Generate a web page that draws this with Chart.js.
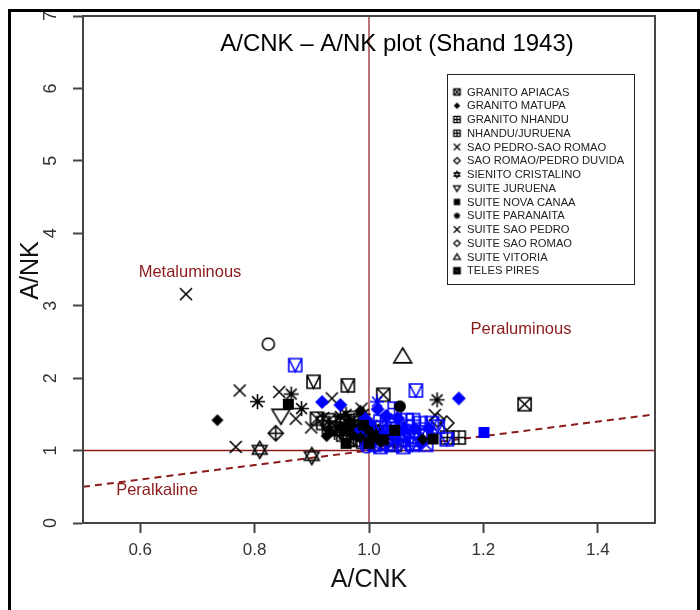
<!DOCTYPE html>
<html><head><meta charset="utf-8">
<script src="https://cdn.jsdelivr.net/npm/chart.js@4/dist/chart.umd.min.js"></script>
<style>html,body{margin:0;padding:0;background:#fff}#wrap{position:relative;width:700px;height:610px}</style>
</head><body><div id="wrap"><canvas id="c" width="700" height="610"></canvas></div>
<script>
const xTicks = [0.6, 0.8, 1.0, 1.2, 1.4];
const yTicks = [0, 1, 2, 3, 4, 5, 6, 7];
const legendLabels = ['GRANITO APIACAS','GRANITO MATUPA','GRANITO NHANDU','NHANDU/JURUENA','SAO PEDRO-SAO ROMAO','SAO ROMAO/PEDRO DUVIDA','SIENITO CRISTALINO','SUITE JURUENA','SUITE NOVA CANAA','SUITE PARANAITA','SUITE SAO PEDRO','SUITE SAO ROMAO','SUITE VITORIA','TELES PIRES'];
const legendSymbols = ['sqx','diamondF','sqplus','sqplus','x','diamond','star6','triDown','sqF','asterisk','x','diamond','triUp','sqxc'];

// series values [A/CNK, A/NK]
const apiacas = [[1.272,1.64],[1.025,1.77],[0.909,1.44],[0.93,1.42],[0.945,1.30],[0.96,1.25],[0.975,1.38],[0.99,1.22],[0.965,1.15],[1.0,1.17],[1.03,1.25]];
const matupa = [[0.735,1.42],[0.926,1.20],[0.97,1.22],[0.985,1.55],[1.094,1.155],[1.02,1.12],[0.955,1.28],[0.95,1.33],[0.985,1.18],[1.0,1.27],[0.93,1.28]];
const nhandu = [[1.137,1.18],[1.157,1.18],[0.973,1.15],[0.955,1.22],[1.0,1.30],[0.93,1.32],[0.985,1.42],[1.03,1.15],[1.045,1.08]];
const nhanduJuruena = [[1.045,1.58],[1.065,1.42],[1.077,1.42],[1.075,1.26],[1.077,1.10],[1.041,1.19],[1.05,1.30],[1.035,1.35],[1.09,1.38],[1.02,1.40],[1.06,1.15]];
const saoPedroSaoRomao = [[0.68,3.16],[0.774,1.83],[0.767,1.05],[0.843,1.81],[0.872,1.44],[0.899,1.32],[0.935,1.72],[0.987,1.58],[0.92,1.45],[1.115,1.49],[0.96,1.42]];
const saoRomaoDuvida = [[0.837,1.24],[0.97,1.35]];
const sienito = [[0.809,1.01],[0.90,0.925]];
const juruenaBox = [[0.903,1.95],[0.963,1.90],[0.94,1.30],[0.98,1.25],[1.01,1.18],[0.92,1.38],[0.955,1.40],[0.98,1.33],[0.99,1.12],[0.97,1.45],[1.01,1.25]];
const juruenaBlue = [[0.871,2.18],[1.082,1.83],[1.12,1.33],[1.136,1.155],[1.076,1.08],[1.05,1.23],[1.09,1.25],[1.03,1.10],[1.04,1.30],[1.06,1.20],[1.10,1.20],[1.02,1.32],[1.11,1.38]];
const juruenaTri = [[0.846,1.48]];
const novaCanaa = [[0.859,1.64],[1.112,1.16],[1.025,1.15],[1.008,1.19],[0.99,1.35],[1.0,1.10],[0.96,1.10],[1.045,1.28]];
const novaCanaaBlue = [[1.201,1.25]];
const paranaita = [[0.805,1.675],[0.864,1.78],[0.882,1.58],[1.119,1.70],[0.95,1.47],[0.99,1.50],[0.965,1.35],[1.01,1.30],[0.94,1.25],[0.975,1.27],[0.96,1.50],[1.005,1.35]];
const paranaitaBlue = [[1.014,1.675],[1.031,1.445],[1.06,1.36]];
const saoRomao = [[1.136,1.38],[1.12,1.42]];
const saoRomaoBlue = [[0.918,1.67],[0.95,1.63],[1.157,1.72],[0.993,1.445],[1.015,1.57],[1.104,1.31],[0.985,1.28],[1.03,1.48],[1.0,1.38],[1.05,1.45],[1.08,1.30],[1.06,1.28],[1.025,1.22],[1.09,1.10]];
const vitoria = [[1.059,2.30]];
const vitoriaCircle = [[0.824,2.47]];
const telesPires = [[1.0,1.12],[1.02,1.05],[1.08,1.15],[1.04,1.08],[1.01,1.08],[1.06,1.05],[1.10,1.08]];
const telesPiresCircle = [[0.996,1.06]];
const telesPiresDot = [[1.054,1.61]];

// reference lines
const lineV = [[1,0],[1,7]];
const lineH = [[0.5,1],[1.5,1]];
const lineShand = [[0.5,0.5],[1.5,1.5]];

const DARKRED = '#8b1a1a';
const BLUE = '#0000ff';
const FONT = "'Liberation Sans', Arial, sans-serif";

function sym(kind, color, r, lw) {
  const S = Math.ceil(2 * r + 2 * lw + 4);
  const c = document.createElement('canvas');
  c.width = c.height = S;
  const g = c.getContext('2d');
  const m = S / 2;
  g.strokeStyle = color; g.fillStyle = color; g.lineWidth = lw; g.lineJoin = 'miter';
  const line = (a, b, cc, d) => { g.moveTo(m + a, m + b); g.lineTo(m + cc, m + d); };
  g.beginPath();
  switch (kind) {
    case 'sqx': g.rect(m - r, m - r, 2 * r, 2 * r); line(-r, -r, r, r); line(-r, r, r, -r); g.stroke(); break;
    case 'sqxc': g.rect(m - r, m - r, 2 * r, 2 * r); line(-r, -r, r, r); line(-r, r, r, -r); g.moveTo(m + r * 0.7, m); g.arc(m, m, r * 0.7, 0, Math.PI * 2); g.stroke(); break;
    case 'sqplus': g.rect(m - r, m - r, 2 * r, 2 * r); line(0, -r, 0, r); line(-r, 0, r, 0); g.stroke(); break;
    case 'sqv': g.rect(m - r, m - r, 2 * r, 2 * r); g.moveTo(m - r, m - r); g.lineTo(m, m + r); g.lineTo(m + r, m - r); g.stroke(); break;
    case 'sqF': g.fillRect(m - r, m - r, 2 * r, 2 * r); break;
    case 'diamondF': g.moveTo(m, m - r); g.lineTo(m + r, m); g.lineTo(m, m + r); g.lineTo(m - r, m); g.closePath(); g.fill(); break;
    case 'diamond': g.moveTo(m, m - r); g.lineTo(m + r, m); g.lineTo(m, m + r); g.lineTo(m - r, m); g.closePath(); g.stroke(); break;
    case 'diamondPlus': g.moveTo(m, m - r); g.lineTo(m + r, m); g.lineTo(m, m + r); g.lineTo(m - r, m); g.closePath(); line(0, -r, 0, r); line(-r, 0, r, 0); g.stroke(); break;
    case 'x': line(-r, -r, r, r); line(-r, r, r, -r); g.stroke(); break;
    case 'asterisk': { const d = r * 0.72; line(0, -r, 0, r); line(-r, 0, r, 0); line(-d, -d, d, d); line(-d, d, d, -d); g.stroke(); break; }
    case 'circle': g.arc(m, m, r, 0, Math.PI * 2); g.stroke(); break;
    case 'circleF': g.arc(m, m, r, 0, Math.PI * 2); g.fill(); break;
    case 'circleX': { const d = r * 0.707; g.arc(m, m, r, 0, Math.PI * 2); line(-d, -d, d, d); line(-d, d, d, -d); g.stroke(); break; }
    case 'triUp': g.moveTo(m, m - r); g.lineTo(m + r * 1.05, m + r * 0.75); g.lineTo(m - r * 1.05, m + r * 0.75); g.closePath(); g.stroke(); break;
    case 'triDown': g.moveTo(m, m + r); g.lineTo(m + r * 1.05, m - r * 0.75); g.lineTo(m - r * 1.05, m - r * 0.75); g.closePath(); g.stroke(); break;
    case 'star6':
      g.moveTo(m, m - r); g.lineTo(m + r * 0.87, m + r * 0.5); g.lineTo(m - r * 0.87, m + r * 0.5); g.closePath();
      g.moveTo(m, m + r); g.lineTo(m + r * 0.87, m - r * 0.5); g.lineTo(m - r * 0.87, m - r * 0.5); g.closePath(); g.stroke(); break;
  }
  return c;
}

const toXY = a => a.map(p => ({ x: p[0], y: p[1] }));
const groups = [
  { label: 'GRANITO APIACAS', data: apiacas, kind: 'sqx', color: '#000', r: 6.5 },
  { label: 'SUITE JURUENA', data: juruenaBox, kind: 'sqv', color: '#000', r: 6.5 },
  { label: 'GRANITO NHANDU', data: nhandu, kind: 'sqplus', color: '#000', r: 6.5 },
  { label: 'SUITE PARANAITA', data: paranaita, kind: 'asterisk', color: '#000', r: 7.5 },
  { label: 'SAO PEDRO-SAO ROMAO', data: saoPedroSaoRomao, kind: 'x', color: '#000', r: 6 },
  { label: 'SAO ROMAO/PEDRO DUVIDA', data: saoRomaoDuvida, kind: 'diamondPlus', color: '#000', r: 7.5 },
  { label: 'SIENITO CRISTALINO', data: sienito, kind: 'star6', color: '#000', r: 8.5 },
  { label: 'SUITE JURUENA', data: juruenaTri, kind: 'triDown', color: '#000', r: 8.5 },
  { label: 'SUITE SAO ROMAO', data: saoRomao, kind: 'diamond', color: '#000', r: 7 },
  { label: 'SUITE VITORIA', data: vitoria, kind: 'triUp', color: '#000', r: 8.5 },
  { label: 'SUITE VITORIA', data: vitoriaCircle, kind: 'circle', color: '#000', r: 6 },
  { label: 'NHANDU/JURUENA', data: nhanduJuruena, kind: 'sqplus', color: BLUE, r: 6.5 },
  { label: 'SUITE JURUENA', data: juruenaBlue, kind: 'sqv', color: BLUE, r: 6.5 },
  { label: 'SUITE PARANAITA', data: paranaitaBlue, kind: 'asterisk', color: BLUE, r: 7 },
  { label: 'TELES PIRES', data: telesPires, kind: 'sqx', color: BLUE, r: 6.5 },
  { label: 'TELES PIRES', data: telesPiresCircle, kind: 'circleX', color: BLUE, r: 6.5 },
  { label: 'SUITE SAO ROMAO', data: saoRomaoBlue, kind: 'diamondF', color: BLUE, r: 7 },
  { label: 'SUITE NOVA CANAA', data: novaCanaa, kind: 'sqF', color: '#000', r: 5.5 },
  { label: 'SUITE NOVA CANAA', data: novaCanaaBlue, kind: 'sqF', color: BLUE, r: 5.5 },
  { label: 'GRANITO MATUPA', data: matupa, kind: 'diamondF', color: '#000', r: 6 },
  { label: 'TELES PIRES', data: telesPiresDot, kind: 'circleF', color: '#000', r: 6 }
];

const datasets = groups.map((gp, i) => ({
  label: gp.label,
  data: toXY(gp.data),
  pointStyle: sym(gp.kind, gp.color, gp.r, 1.6),
  pointRadius: 6,
  showLine: false,
  order: groups.length - i
}));
datasets.push({ label: 'x=1', data: toXY(lineV), showLine: true, pointRadius: 0, borderColor: DARKRED, borderWidth: 1.2, order: 100 });
datasets.push({ label: 'y=1', data: toXY(lineH), showLine: true, pointRadius: 0, borderColor: DARKRED, borderWidth: 1.6, order: 100 });
datasets.push({ label: 'Shand', data: toXY(lineShand), showLine: true, pointRadius: 0, borderColor: DARKRED, borderWidth: 2, borderDash: [7, 5], order: 100 });

const decor = {
  id: 'decor',
  beforeDraw(chart) {
    const ctx = chart.ctx;
    ctx.save();
    ctx.fillStyle = '#fff'; ctx.fillRect(0, 0, 700, 610);
    ctx.fillStyle = '#000';
    ctx.fillRect(8, 9, 692, 3);
    ctx.fillRect(8, 9, 3, 601);
    ctx.fillRect(697, 9, 3, 601);
    ctx.restore();
  },
  afterDraw(chart) {
    const ctx = chart.ctx, a = chart.chartArea;
    const xs = chart.scales.x, ys = chart.scales.y;
    ctx.save();
    // frame
    ctx.strokeStyle = '#444'; ctx.lineWidth = 2;
    ctx.strokeRect(a.left, a.top, a.right - a.left, a.bottom - a.top);
    // tick labels
    ctx.fillStyle = '#333';
    ctx.font = '17px ' + FONT;
    ctx.textAlign = 'center'; ctx.textBaseline = 'middle';
    xTicks.forEach(v => ctx.fillText(v.toFixed(1), xs.getPixelForValue(v), 550));
    ctx.font = '18px ' + FONT;
    yTicks.forEach(v => {
      ctx.save(); ctx.translate(51, ys.getPixelForValue(v)); ctx.rotate(-Math.PI / 2);
      ctx.fillText(String(v), 0, 0); ctx.restore();
    });
    // axis titles
    ctx.fillStyle = '#111';
    ctx.font = '25px ' + FONT;
    ctx.fillText('A/CNK', (a.left + a.right) / 2, 580);
    ctx.save(); ctx.translate(31, (a.top + a.bottom) / 2 + 1); ctx.rotate(-Math.PI / 2);
    ctx.fillText('A/NK', 0, 0); ctx.restore();
    // title
    ctx.fillStyle = '#000';
    ctx.font = '24px ' + FONT;
    ctx.fillText('A/CNK \u2013 A/NK plot (Shand 1943)', 397, 44);
    // region labels
    ctx.fillStyle = DARKRED;
    ctx.font = '16.5px ' + FONT;
    ctx.fillText('Metaluminous', 190, 272);
    ctx.fillText('Peraluminous', 521, 329);
    ctx.fillText('Peralkaline', 157, 490);
    // legend
    const L = 447, T = 74, W = 187, H = 210;
    ctx.fillStyle = '#fff'; ctx.fillRect(L, T, W, H);
    ctx.strokeStyle = '#222'; ctx.lineWidth = 1;
    ctx.strokeRect(L + 0.5, T + 0.5, W, H);
    ctx.font = '11.2px ' + FONT;
    ctx.textAlign = 'left';
    legendLabels.forEach((lab, i) => {
      const y = 92 + i * 13.75;
      const s = sym(legendSymbols[i], '#000', 3.2, 1.3);
      ctx.drawImage(s, 457 - s.width / 2, y - s.height / 2);
      ctx.fillStyle = '#222';
      ctx.fillText(lab, 467, y + 0.5);
    });
    ctx.restore();
  }
};

new Chart(document.getElementById('c').getContext('2d'), {
  type: 'scatter',
  data: { datasets },
  options: {
    responsive: false, animation: false, devicePixelRatio: 1,
    layout: { padding: { left: 0, right: 45, top: 16, bottom: 0 } },
    plugins: { legend: { display: false }, tooltip: { enabled: false }, title: { display: false } },
    scales: {
      x: {
        type: 'linear', min: 0.5, max: 1.5,
        afterBuildTicks: s => { s.ticks = xTicks.map(v => ({ value: v })); },
        afterFit: s => { s.height = 87; },
        grid: { drawOnChartArea: false, drawTicks: true, tickLength: 10, tickWidth: 2, tickColor: '#444' },
        border: { display: true, color: '#444', width: 2 },
        ticks: { display: false }
      },
      y: {
        type: 'linear', min: 0, max: 7,
        afterBuildTicks: s => { s.ticks = yTicks.map(v => ({ value: v })); },
        afterFit: s => { s.width = 83; },
        grid: { drawOnChartArea: false, drawTicks: true, tickLength: 10, tickWidth: 2, tickColor: '#444' },
        border: { display: true, color: '#444', width: 2 },
        ticks: { display: false }
      }
    }
  },
  plugins: [decor]
});
</script>
</body></html>
